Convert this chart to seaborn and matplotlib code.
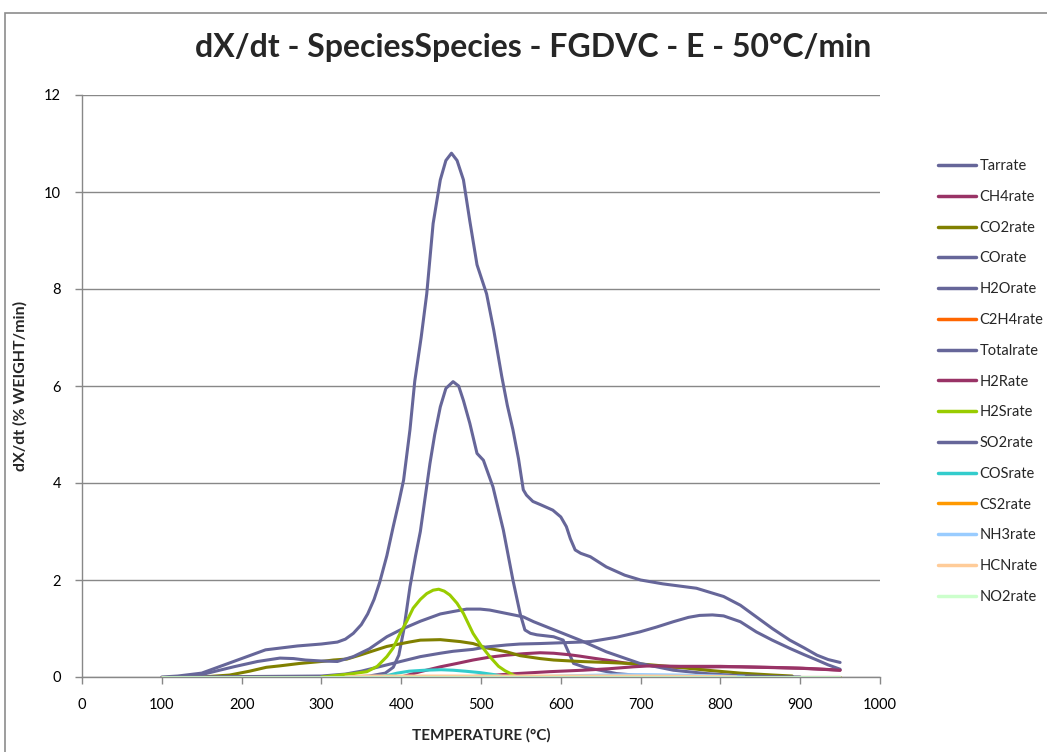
import numpy as np
import pandas as pd
import matplotlib
matplotlib.use("Agg")
import matplotlib.pyplot as plt
from matplotlib.patches import Rectangle
from matplotlib.lines import Line2D
import seaborn as sns

# ---------------- data ----------------
series_names = ["Tarrate", "CH4rate", "CO2rate", "COrate", "H2Orate", "C2H4rate",
                "Totalrate", "H2Rate", "H2Srate", "SO2rate", "COSrate", "CS2rate",
                "NH3rate", "HCNrate", "NO2rate"]

tar_T = [340, 360, 380, 390, 397, 403, 411, 418, 424, 430, 436, 442, 449, 456, 465, 472, 478,
         486, 495, 503, 515, 528, 540, 549, 555, 562, 570, 591, 603, 610, 616, 630, 649, 670, 700, 750]
tar_V = [0, 0.02, 0.08, 0.2, 0.45, 0.95, 1.86, 2.5, 3.0, 3.7, 4.4, 5.0, 5.57, 5.95, 6.09, 6.0, 5.7,
         5.23, 4.61, 4.47, 3.92, 3.03, 2.0, 1.31, 0.97, 0.9, 0.87, 0.83, 0.76, 0.5, 0.28, 0.2, 0.14, 0.07, 0.03, 0.0]

ch4_T = [400, 424, 449, 470, 490, 511, 532, 553, 574, 591, 610, 624, 640, 657, 680, 699, 720,
         741, 770, 795, 825, 860, 904, 930, 950]
ch4_V = [0, 0.11, 0.21, 0.28, 0.35, 0.41, 0.45, 0.48, 0.5, 0.49, 0.46, 0.43, 0.39, 0.35, 0.29, 0.25, 0.22,
         0.2, 0.2, 0.21, 0.21, 0.2, 0.18, 0.16, 0.14]

co2_T = [150, 185, 210, 231, 248, 273, 300, 315, 332, 348, 382, 410, 424, 449, 474, 490, 507,
         532, 549, 574, 591, 624, 657, 699, 741, 783, 825, 866, 890]
co2_V = [0, 0.04, 0.12, 0.2, 0.23, 0.28, 0.32, 0.35, 0.37, 0.45, 0.63, 0.72, 0.76, 0.77, 0.73, 0.69, 0.6,
         0.52, 0.44, 0.38, 0.35, 0.32, 0.3, 0.27, 0.21, 0.14, 0.08, 0.04, 0.02]

co_T = [120, 300, 330, 350, 382, 424, 449, 465, 490, 507, 532, 549, 574, 591, 624, 637, 670, 699,
        720, 741, 760, 774, 790, 804, 825, 845, 865, 887, 905, 921, 935, 950]
co_V = [0, 0.02, 0.06, 0.12, 0.25, 0.42, 0.49, 0.53, 0.57, 0.62, 0.66, 0.68, 0.69, 0.70, 0.72, 0.73, 0.82, 0.93,
        1.03, 1.14, 1.23, 1.27, 1.28, 1.26, 1.14, 0.93, 0.76, 0.59, 0.46, 0.35, 0.25, 0.16]

h2o_T = [120, 150, 190, 220, 248, 265, 280, 300, 320, 340, 360, 382, 400, 424, 449, 465, 482, 499,
         511, 532, 553, 566, 595, 624, 657, 699, 741, 783, 820, 860, 900]
h2o_V = [0, 0.05, 0.21, 0.32, 0.39, 0.38, 0.35, 0.33, 0.32, 0.42, 0.58, 0.83, 0.98, 1.15, 1.3, 1.35, 1.4, 1.4,
         1.38, 1.31, 1.24, 1.14, 0.95, 0.76, 0.52, 0.28, 0.14, 0.07, 0.03, 0.01, 0]

c2h4_T = [100, 950]
c2h4_V = [0, 0]

total_T = [100, 120, 150, 190, 230, 270, 300, 320, 330, 340, 350, 358, 366, 373, 382, 390, 397, 403,
           411, 417, 425, 432, 440, 449, 456, 463, 470, 478, 486, 495, 507, 516, 526, 533, 540, 547,
           553, 557, 565, 575, 590, 600, 607, 612, 618, 625, 637, 657, 680, 700, 728, 770, 804, 825,
           845, 865, 887, 905, 921, 935, 950]
total_V = [0, 0.02, 0.08, 0.32, 0.56, 0.64, 0.68, 0.72, 0.78, 0.9, 1.08, 1.3, 1.6, 1.95, 2.5, 3.1, 3.6, 4.06,
           5.1, 6.1, 7.0, 7.9, 9.35, 10.25, 10.65, 10.8, 10.65, 10.25, 9.4, 8.5, 7.9, 7.15, 6.2, 5.6, 5.1, 4.5,
           3.86, 3.75, 3.62, 3.55, 3.44, 3.3, 3.1, 2.85, 2.62, 2.55, 2.48, 2.27, 2.1, 2.0, 1.92, 1.83, 1.66, 1.48,
           1.24, 1.0, 0.76, 0.6, 0.45, 0.36, 0.3]

h2_T = [480, 510, 544, 586, 628, 660, 691, 712, 750, 800, 850, 900, 950]
h2_V = [0, 0.03, 0.07, 0.11, 0.14, 0.17, 0.21, 0.23, 0.22, 0.22, 0.2, 0.18, 0.14]

h2s_T = [300, 323, 340, 357, 370, 382, 390, 398, 407, 415, 424, 432, 440, 447, 454, 461, 470, 478,
         490, 500, 511, 522, 530, 536, 545]
h2s_V = [0, 0.04, 0.07, 0.11, 0.22, 0.42, 0.6, 0.88, 1.15, 1.42, 1.6, 1.72, 1.79, 1.81, 1.77, 1.69, 1.52, 1.31,
         0.9, 0.65, 0.42, 0.22, 0.13, 0.08, 0]

so2_T = [100, 950]
so2_V = [0, 0]

cos_T = [370, 385, 395, 410, 430, 450, 465, 480, 499, 516, 530]
cos_V = [0, 0.04, 0.08, 0.12, 0.14, 0.15, 0.14, 0.12, 0.09, 0.05, 0]

cs2_T = [100, 950]
cs2_V = [0, 0]

nh3_T = [560, 600, 650, 700, 750, 800, 830]
nh3_V = [0, 0.02, 0.04, 0.05, 0.04, 0.02, 0]

hcn_T = [330, 350, 400, 500, 600, 700, 800, 820]
hcn_V = [0, 0.02, 0.02, 0.02, 0.02, 0.02, 0.01, 0]

no2_T = [100, 300, 500, 700, 950]
no2_V = [0, 0, 0, 0, 0]

all_T = [tar_T, ch4_T, co2_T, co_T, h2o_T, c2h4_T, total_T, h2_T, h2s_T, so2_T, cos_T, cs2_T, nh3_T, hcn_T, no2_T]
all_V = [tar_V, ch4_V, co2_V, co_V, h2o_V, c2h4_V, total_V, h2_V, h2s_V, so2_V, cos_V, cs2_V, nh3_V, hcn_V, no2_V]

x_ticks = list(range(0, 1001, 100))
y_ticks = list(range(0, 13, 2))

colors = ["#666699", "#993366", "#808000", "#666699", "#666699", "#FF6600",
          "#666699", "#993366", "#99CC00", "#666699", "#33CCCC", "#FF9900",
          "#99CCFF", "#FFCC99", "#CCFFCC"]

frames = []
for name, T, V in zip(series_names, all_T, all_V):
    frames.append(pd.DataFrame({"T": T, "rate": V, "series": name}))
df = pd.concat(frames, ignore_index=True)

# ---------------- figure ----------------
sns.set_theme(style="white")
plt.rcParams["font.family"] = ["Lato", "DejaVu Sans"]

fig = plt.figure(figsize=(10.47, 7.52), dpi=100)
ax = fig.add_axes([82 / 1047, 75 / 752, 798 / 1047, 582 / 752])

sns.lineplot(data=df, x="T", y="rate", hue="series", hue_order=series_names,
             palette=dict(zip(series_names, colors)), estimator=None, sort=False,
             linewidth=2.2, ax=ax, legend=False)

ax.set_xlim(0, 1000)
ax.set_ylim(0, 12)
ax.set_xticks(x_ticks)
ax.set_yticks(y_ticks)
ax.set_xticklabels([str(v) for v in x_ticks], fontsize=10.5)
ax.set_yticklabels([str(v) for v in y_ticks], fontsize=10.5)

ax.yaxis.grid(True, color="#888888", linewidth=1.0)
ax.set_axisbelow(True)
for s in ["top", "right"]:
    ax.spines[s].set_visible(False)
for s in ["left", "bottom"]:
    ax.spines[s].set_color("#888888")
    ax.spines[s].set_linewidth(1.0)
ax.tick_params(axis="both", direction="out", length=5, width=1, color="#888888",
               labelcolor="black", bottom=True, left=True, pad=10)

ax.set_xlabel("TEMPERATURE (°C)", fontsize=11, fontweight="bold", labelpad=12)
ax.set_ylabel("dX/dt (% WEIGHT/min)", fontsize=11.5, fontweight="bold", labelpad=12)

fig.text(533 / 1047, 1 - 47 / 752, "dX/dt - SpeciesSpecies - FGDVC - E - 50°C/min",
         ha="center", va="center", fontsize=23, fontweight="bold")

handles = [Line2D([0], [0], color=c, lw=2.5) for c in colors]
leg = fig.legend(handles, series_names, loc="upper left",
                 bbox_to_anchor=(925 / 1047, 1 - 146 / 752), frameon=False,
                 fontsize=10.5, handlelength=2.6, handletextpad=0.25, labelspacing=1.15)

fig.add_artist(Rectangle((5 / 1047, -0.05), 1.2, 1.05 - 13 / 752, transform=fig.transFigure,
                         fill=False, edgecolor="#8c8c8c", linewidth=1.2))

fig.savefig("out.png", dpi=100)
